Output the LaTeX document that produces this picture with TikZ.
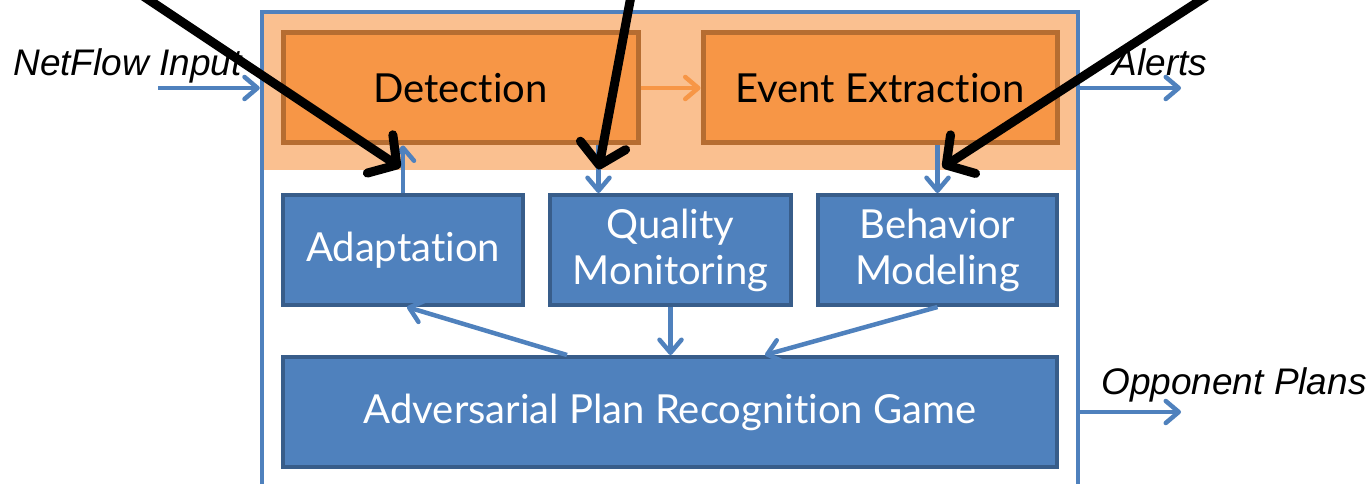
\documentclass[tikz,border=0pt]{standalone}
\usepackage{fontspec}
\setmainfont{Lato}[Ligatures=NoCommon]
\newfontfamily\arialfont{Liberation Sans}
\usetikzlibrary{arrows.meta}
\definecolor{orfill}{HTML}{F79646}
\definecolor{ordraw}{HTML}{B66D31}
\definecolor{orband}{HTML}{FAC090}
\definecolor{blfill}{HTML}{4F81BD}
\definecolor{bldraw}{HTML}{385D8A}
\begin{document}
\begin{tikzpicture}[x=1pt,y=-1pt,
  boxtext/.style={font=\fontsize{40}{46}\selectfont, align=center},
  orbox/.style={boxtext, draw=ordraw, fill=orfill, line width=5pt, minimum height=110pt, text=black, inner sep=0pt},
  blbox/.style={boxtext, draw=bldraw, fill=blfill, line width=4pt, minimum height=110pt, text=white, inner sep=0pt},
  sysframe/.style={draw=blfill, line width=4.5pt, inner sep=0pt},
  bluearr/.style={draw=blfill, line width=4.5pt, -{Straight Barb[length=13pt,width=22pt,round]}},
  orarr/.style={draw=orfill, line width=4.5pt, -{Straight Barb[length=13pt,width=22pt,round]}},
  blackarr/.style={draw=black, line width=9pt, line cap=round, -{Straight Barb[length=20pt,width=46pt,round]}},
  lbl/.style={font=\arialfont\itshape\fontsize{37}{42}\selectfont, inner sep=0pt}
]
\clip (0,0) rectangle (1371,484);
\fill[white] (0,0) rectangle (1371,484);
% band and frame
\fill[orband] (262,12) rectangle (1078,170);
\node[sysframe, minimum width=816pt, minimum height=490pt] (sys) at (670,257) {};
% boxes
\node[orbox, minimum width=355pt] (det) at (460.5,88) {Detection};
\node[orbox, minimum width=354pt] (ev) at (880,88) {Event Extraction};
\node[blbox, minimum width=240pt] (adapt) at (403,250) {Adaptation};
\node[blbox, minimum width=241pt] (qual) at (670.5,250) {Quality\\Monitoring};
\node[blbox, minimum width=239pt] (behav) at (937.5,250) {Behavior\\Modeling};
\node[blbox, minimum width=774pt] (game) at (670,412) {Adversarial Plan Recognition Game};
% internal connectors
\draw[orarr] (det.east) -- (ev.west);
\draw[bluearr] (adapt.north) -- (adapt.north |- det.south);
\draw[bluearr] ([xshift=-42pt]det.south east) -- ([xshift=-42pt]det.south east |- qual.north);
\draw[bluearr] (ev.south -| behav.north) -- (behav.north);
\draw[bluearr] ([xshift=-103pt]game.north) -- ([xshift=4pt]adapt.south);
\draw[bluearr] (qual.south) -- (qual.south |- game.north);
\draw[bluearr] (behav.south) -- ([xshift=95pt]game.north);
% inputs and outputs
\coordinate (inL) at (158,88);
\coordinate (alertR) at (1181,88);
\coordinate (oppR) at (1181,412);
\draw[bluearr] (inL) -- (inL -| sys.west);
\draw[bluearr] (alertR -| sys.east) -- (alertR);
\draw[bluearr] (oppR -| sys.east) -- (oppR);
\node[lbl] (netlbl) at (127.5,66) {NetFlow Input};
\node[lbl] (alertlbl) at (1160,62) {Alerts};
\node[lbl] (opplbl) at (1234,385) {Opponent Plans};
% black pointer arrows
\coordinate (b1s) at (143,-4);
\coordinate (b2s) at (631,-4);
\coordinate (b3s) at (1207,-4);
\draw[blackarr] (b1s) -- ([xshift=-60pt,yshift=-22pt]det.south);
\draw[blackarr] (b2s) -- ([xshift=-42pt,yshift=-24pt]det.south east);
\draw[blackarr] (b3s) -- ([xshift=5pt,yshift=-22pt]ev.south -| behav.north);
\end{tikzpicture}
\end{document}
